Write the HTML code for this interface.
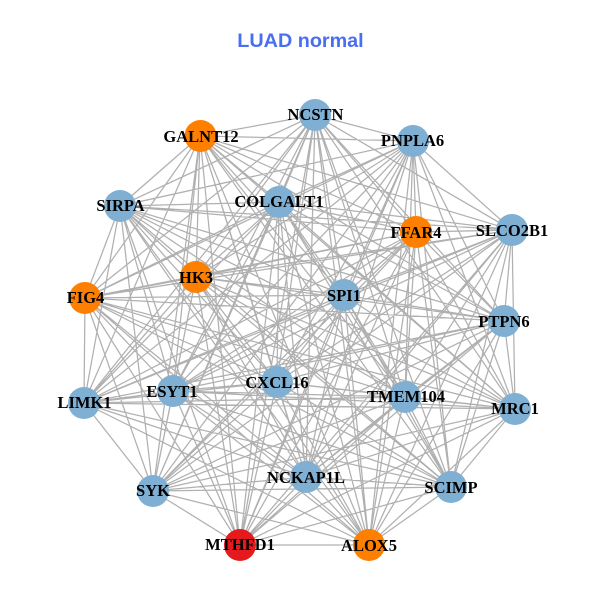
<!DOCTYPE html>
<html><head><meta charset="utf-8"><style>
html,body{margin:0;padding:0;background:#fff}
svg{display:block}
.l{font:bold 16.5px "Liberation Serif",serif;fill:#000;text-anchor:middle}
</style></head><body>
<svg width="600" height="600" viewBox="0 0 600 600" xmlns="http://www.w3.org/2000/svg">
<rect width="600" height="600" fill="#fff"/>
<text x="300.5" y="47" text-anchor="middle" style="font:bold 19.8px 'Liberation Sans',sans-serif;fill:#4a6ef0">LUAD normal</text>
<path fill="none" stroke="#b0b0b0" stroke-width="1.25" d="
M315 115L413 141 315 115 512 230 315 115 416 232 315 115 504 321 315 115 515 409 315 115 405 397 315 115 451 487 315 115 369 545 315 115 306 477 315 115 240 545 315 115 153 491 315 115 84 403 315 115 173 391 315 115 277 382 315 115 344 295 315 115 196 277 315 115 85 298 315 115 120 206 315 115 279 202 315 115 200 136
M413 141L512 230 413 141 416 232 413 141 504 321 413 141 515 409 413 141 405 397 413 141 451 487 413 141 369 545 413 141 306 477 413 141 240 545 413 141 153 491 413 141 84 403 413 141 173 391 413 141 277 382 413 141 344 295 413 141 196 277 413 141 85 298 413 141 120 206 413 141 279 202 413 141 200 136
M512 230L416 232 512 230 504 321 512 230 515 409 512 230 405 397 512 230 451 487 512 230 369 545 512 230 306 477 512 230 240 545 512 230 153 491 512 230 84 403 512 230 173 391 512 230 277 382 512 230 344 295 512 230 196 277 512 230 85 298 512 230 120 206 512 230 279 202 512 230 200 136
M416 232L504 321 416 232 515 409 416 232 405 397 416 232 451 487 416 232 369 545 416 232 306 477 416 232 240 545 416 232 153 491 416 232 84 403 416 232 173 391 416 232 277 382 416 232 344 295 416 232 196 277 416 232 85 298 416 232 120 206 416 232 279 202 416 232 200 136
M504 321L515 409 504 321 405 397 504 321 451 487 504 321 369 545 504 321 306 477 504 321 240 545 504 321 153 491 504 321 84 403 504 321 173 391 504 321 277 382 504 321 344 295 504 321 196 277 504 321 85 298 504 321 120 206 504 321 279 202 504 321 200 136
M515 409L405 397 515 409 451 487 515 409 369 545 515 409 306 477 515 409 240 545 515 409 153 491 515 409 84 403 515 409 173 391 515 409 277 382 515 409 344 295 515 409 196 277 515 409 85 298 515 409 120 206 515 409 279 202 515 409 200 136
M405 397L451 487 405 397 369 545 405 397 306 477 405 397 240 545 405 397 153 491 405 397 84 403 405 397 173 391 405 397 277 382 405 397 344 295 405 397 196 277 405 397 85 298 405 397 120 206 405 397 279 202 405 397 200 136
M451 487L369 545 451 487 306 477 451 487 240 545 451 487 153 491 451 487 84 403 451 487 173 391 451 487 277 382 451 487 344 295 451 487 196 277 451 487 85 298 451 487 120 206 451 487 279 202 451 487 200 136
M369 545L306 477 369 545 240 545 369 545 153 491 369 545 84 403 369 545 173 391 369 545 277 382 369 545 344 295 369 545 196 277 369 545 85 298 369 545 120 206 369 545 279 202 369 545 200 136
M306 477L240 545 306 477 153 491 306 477 84 403 306 477 173 391 306 477 277 382 306 477 344 295 306 477 196 277 306 477 85 298 306 477 120 206 306 477 279 202 306 477 200 136
M240 545L153 491 240 545 173 391 240 545 277 382 240 545 344 295 240 545 196 277 240 545 85 298 240 545 120 206 240 545 279 202 240 545 200 136
M153 491L84 403 153 491 173 391 153 491 277 382 153 491 344 295 153 491 196 277 153 491 85 298 153 491 120 206 153 491 279 202 153 491 200 136
M84 403L173 391 84 403 277 382 84 403 344 295 84 403 196 277 84 403 85 298 84 403 120 206 84 403 279 202 84 403 200 136
M173 391L277 382 173 391 344 295 173 391 196 277 173 391 85 298 173 391 120 206 173 391 279 202 173 391 200 136
M277 382L344 295 277 382 196 277 277 382 85 298 277 382 120 206 277 382 279 202 277 382 200 136
M344 295L196 277 344 295 85 298 344 295 120 206 344 295 279 202 344 295 200 136
M196 277L85 298 196 277 120 206 196 277 279 202 196 277 200 136
M85 298L120 206 85 298 279 202 85 298 200 136
M120 206L279 202 120 206 200 136
M279 202L200 136"/>
<g fill="#7fb0d3">
<circle cx="315" cy="115" r="16"/><circle cx="413" cy="141" r="16"/><circle cx="512" cy="230" r="16"/><circle cx="504" cy="321" r="16"/><circle cx="515" cy="409" r="16"/><circle cx="405" cy="397" r="16"/><circle cx="451" cy="487" r="16"/><circle cx="306" cy="477" r="16"/><circle cx="153" cy="491" r="16"/><circle cx="84" cy="403" r="16"/><circle cx="173" cy="391" r="16"/><circle cx="277" cy="382" r="16"/><circle cx="344" cy="295" r="16"/><circle cx="120" cy="206" r="16"/><circle cx="279" cy="202" r="16"/>
</g>
<g fill="#ff7f00">
<circle cx="416" cy="232" r="16"/><circle cx="369" cy="545" r="16"/><circle cx="196" cy="277" r="16"/><circle cx="85" cy="298" r="16"/><circle cx="200.5" cy="136" r="16"/>
</g>
<circle cx="240" cy="545" r="16" fill="#e41a1c"/>
<g class="l">
<text class="l" x="315.5" y="120">NCSTN</text>
<text class="l" x="412.5" y="146">PNPLA6</text>
<text class="l" x="512" y="236">SLCO2B1</text>
<text class="l" x="416" y="238">FFAR4</text>
<text class="l" x="504" y="327">PTPN6</text>
<text class="l" x="515" y="414">MRC1</text>
<text class="l" x="406" y="402">TMEM104</text>
<text class="l" x="451" y="493">SCIMP</text>
<text class="l" x="369" y="551">ALOX5</text>
<text class="l" x="306" y="483">NCKAP1L</text>
<text class="l" x="240" y="550">MTHFD1</text>
<text class="l" x="153" y="496">SYK</text>
<text class="l" x="84.5" y="408">LIMK1</text>
<text class="l" x="172" y="397">ESYT1</text>
<text class="l" x="277" y="388">CXCL16</text>
<text class="l" x="344" y="301">SPI1</text>
<text class="l" x="196" y="283">HK3</text>
<text class="l" x="85.5" y="303">FIG4</text>
<text class="l" x="120.5" y="211">SIRPA</text>
<text class="l" x="279" y="207">COLGALT1</text>
<text class="l" x="201" y="142">GALNT12</text>
</g>
</svg>
</body></html>
